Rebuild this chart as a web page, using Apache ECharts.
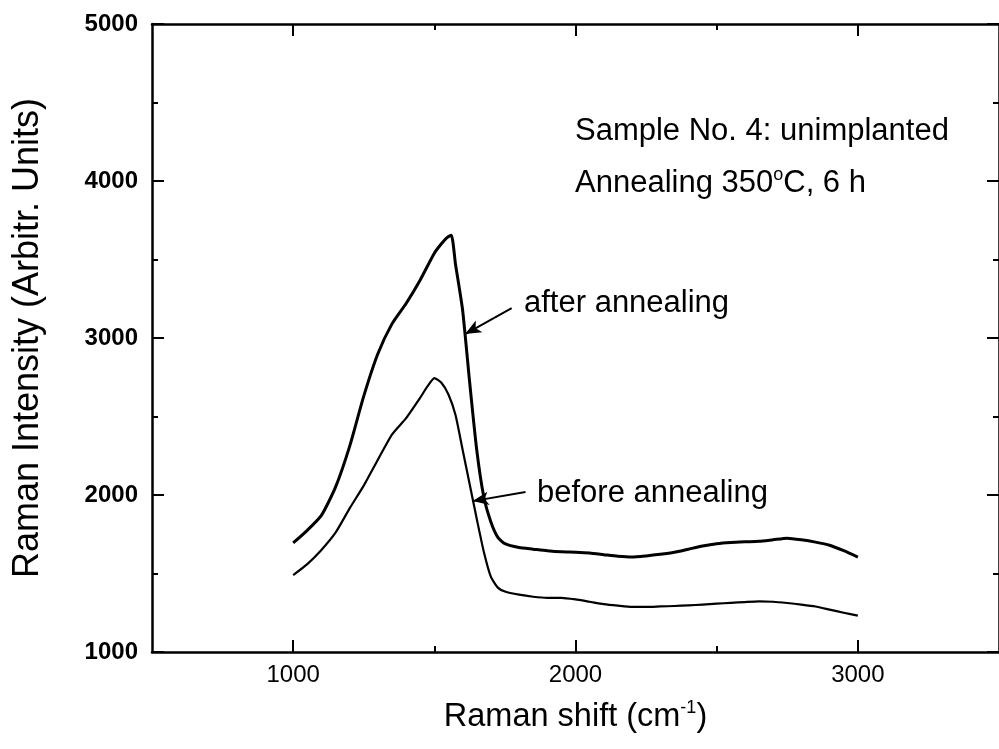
<!DOCTYPE html>
<html>
<head>
<meta charset="utf-8">
<script src="https://cdn.jsdelivr.net/npm/echarts@6/dist/echarts.min.js"></script>
<style>
html,body{margin:0;padding:0;background:#fff;}
#chart{width:999px;height:749px;}
</style>
</head>
<body>
<div id="chart"></div>
<script>
// Raman shift (cm-1) and intensity (arbitr. units)
var afterX = [1000,1050,1100,1150,1200,1250,1300,1350,1400,1450,1500,1525,1545,1560,1575,1600,1625,1650,1675,1700,1725,1750,1800,1850,1900,1950,2000,2050,2100,2150,2200,2250,2300,2350,2400,2450,2500,2550,2600,2650,2700,2750,2800,2850,2900,2950,3000];
var afterY = [1695,1775,1870,2050,2310,2630,2900,3090,3220,3370,3540,3600,3640,3655,3470,3180,2720,2290,1990,1830,1730,1690,1665,1655,1645,1638,1635,1630,1620,1610,1605,1612,1622,1635,1655,1675,1690,1698,1702,1705,1715,1725,1715,1700,1680,1645,1605];

var beforeX = [1000,1050,1100,1150,1200,1250,1300,1350,1400,1450,1475,1500,1525,1550,1575,1600,1625,1650,1675,1700,1725,1750,1800,1850,1900,1950,2000,2050,2100,2150,2200,2250,2300,2350,2400,2450,2500,2550,2600,2650,2700,2750,2800,2850,2900,2950,3000];
var beforeY = [1490,1560,1650,1760,1915,2060,2225,2385,2490,2620,2690,2745,2715,2640,2510,2290,2070,1850,1640,1480,1410,1385,1365,1352,1345,1345,1335,1320,1305,1295,1287,1287,1290,1293,1297,1302,1308,1313,1318,1322,1320,1312,1302,1290,1270,1250,1232];

var xMajorTicks = [1000, 2000, 3000];
var xMinorTicks = [1500, 2500];
var xTitle = 'Raman shift (cm';
var yTitle = 'Raman Intensity (Arbitr. Units)';
var noteLine1 = 'Sample No. 4: unimplanted';
var noteLine2a = 'Annealing 350';
var noteLine2b = 'C, 6 h';
var labelAfter = 'after annealing';
var labelBefore = 'before annealing';

function pairs(xs, ys) { return xs.map(function (x, i) { return [x, ys[i]]; }); }
function plain(v) { return String(v); }

var FONT = 'Arial, "Liberation Sans", sans-serif';
var chart = echarts.init(document.getElementById('chart'), null, {renderer: 'canvas'});

var axisLine = {show: true, lineStyle: {color: '#000', width: 2.5}};
var grid = {left: 152, top: 24, width: 848, height: 628};

var option = {
  animation: false,
  backgroundColor: '#fff',
  grid: grid,
  xAxis: [
    {
      type: 'value', min: 500, max: 3500, interval: 500, position: 'bottom',
      axisLine: axisLine,
      axisTick: {show: true, inside: true, length: 12, customValues: xMajorTicks, lineStyle: {color: '#000', width: 2}},
      axisLabel: {show: true, customValues: xMajorTicks, margin: 11, color: '#000', fontSize: 24, fontFamily: FONT, formatter: plain},
      splitLine: {show: false},
      name: '{n|' + xTitle + '}{s|-1}{n|)}',
      nameLocation: 'middle', nameGap: 47,
      nameTextStyle: {
        rich: {
          n: {fontSize: 32.5, fontFamily: FONT, color: '#000', lineHeight: 36},
          s: {fontSize: 18, fontFamily: FONT, color: '#000', lineHeight: 20, verticalAlign: 'top'}
        }
      }
    },
    {
      type: 'value', min: 500, max: 3500, interval: 500, position: 'bottom',
      axisLine: {show: false},
      axisTick: {show: true, inside: true, length: 6, customValues: xMinorTicks, lineStyle: {color: '#000', width: 2}},
      axisLabel: {show: false}, splitLine: {show: false}
    },
    {
      type: 'value', min: 500, max: 3500, interval: 500, position: 'top',
      axisLine: axisLine,
      axisTick: {show: true, inside: true, length: 12, customValues: xMajorTicks, lineStyle: {color: '#000', width: 2}},
      axisLabel: {show: false}, splitLine: {show: false}
    },
    {
      type: 'value', min: 500, max: 3500, interval: 500, position: 'top',
      axisLine: {show: false},
      axisTick: {show: true, inside: true, length: 6, customValues: xMinorTicks, lineStyle: {color: '#000', width: 2}},
      axisLabel: {show: false}, splitLine: {show: false}
    }
  ],
  yAxis: [
    {
      type: 'value', min: 1000, max: 5000, interval: 1000, position: 'left',
      axisLine: axisLine,
      axisTick: {show: true, inside: true, length: 12, lineStyle: {color: '#000', width: 2}},
      minorTick: {show: true, splitNumber: 2, length: 6, lineStyle: {color: '#000', width: 2}},
      axisLabel: {show: true, margin: 14, color: '#000', fontSize: 24, fontWeight: 'bold', fontFamily: FONT, formatter: plain},
      splitLine: {show: false},
      name: yTitle, nameLocation: 'middle', nameGap: 106,
      nameTextStyle: {fontSize: 36, fontFamily: FONT, color: '#000'}
    },
    {
      type: 'value', min: 1000, max: 5000, interval: 1000, position: 'right',
      axisLine: axisLine,
      axisTick: {show: true, inside: true, length: 12, lineStyle: {color: '#000', width: 2}},
      minorTick: {show: true, splitNumber: 2, length: 6, lineStyle: {color: '#000', width: 2}},
      axisLabel: {show: false}, splitLine: {show: false}
    }
  ],
  series: [
    {
      name: 'after annealing', type: 'line', xAxisIndex: 0, yAxisIndex: 0,
      data: pairs(afterX, afterY), showSymbol: false, smooth: 0.2,
      lineStyle: {color: '#000', width: 3, join: 'round'},
      markLine: {
        silent: true, symbol: ['none', 'arrow'], symbolSize: [10, 16],
        label: {show: false},
        lineStyle: {color: '#000', width: 2, type: 'solid'},
        data: [[{coord: [1774, 3190]}, {coord: [1609, 3025]}]]
      }
    },
    {
      name: 'before annealing', type: 'line', xAxisIndex: 0, yAxisIndex: 0,
      data: pairs(beforeX, beforeY), showSymbol: false, smooth: 0.2,
      lineStyle: {color: '#000', width: 2.2, join: 'round'},
      markLine: {
        silent: true, symbol: ['none', 'arrow'], symbolSize: [10, 16],
        label: {show: false},
        lineStyle: {color: '#000', width: 2, type: 'solid'},
        data: [[{coord: [1823, 2019]}, {coord: [1636, 1961]}]]
      }
    }
  ],
  graphic: [
    {type: 'text', left: 575, top: 116, style: {text: noteLine1, fontSize: 31, fontFamily: FONT, fill: '#000'}},
    {type: 'text', left: 575, top: 166, style: {
      text: '{n|' + noteLine2a + '}{s|o}{n|' + noteLine2b + '}', fill: '#000',
      rich: {
        n: {fontSize: 31, fontFamily: FONT, fill: '#000', lineHeight: 35},
        s: {fontSize: 18, fontFamily: FONT, fill: '#000', lineHeight: 20, verticalAlign: 'top'}
      }
    }},
    {type: 'text', left: 524, top: 288, style: {text: labelAfter, fontSize: 31, fontFamily: FONT, fill: '#000'}},
    {type: 'text', left: 537, top: 478, style: {text: labelBefore, fontSize: 31, fontFamily: FONT, fill: '#000'}}
  ]
};
chart.setOption(option);
</script>
</body>
</html>
